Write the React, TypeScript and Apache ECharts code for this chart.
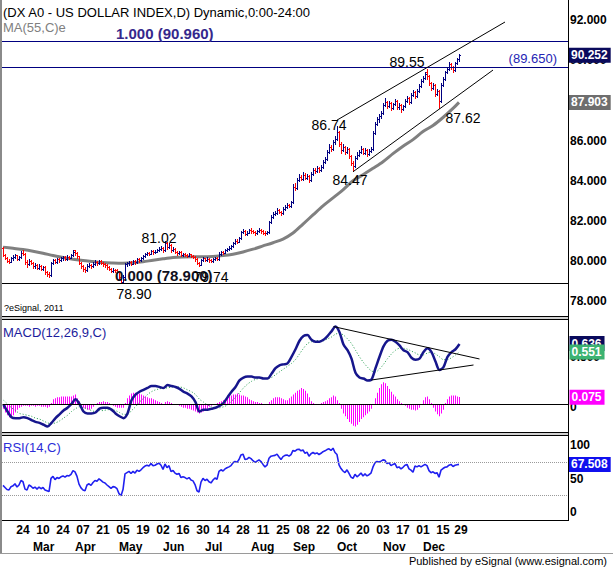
import { useEffect, useRef } from 'react';
import * as echarts from 'echarts';

const FONT = '"Liberation Sans", Arial, sans-serif';
const N_CATS = 283;
const HOLIDAYS = ['2014-12-25'];

const dayTicks = ['2014-02-24','2014-03-10','2014-03-24','2014-04-07','2014-04-21','2014-05-05','2014-05-19','2014-06-02','2014-06-16','2014-06-30','2014-07-14','2014-07-28','2014-08-11','2014-08-25','2014-09-08','2014-09-22','2014-10-06','2014-10-20','2014-11-03','2014-11-17','2014-12-01','2014-12-15','2014-12-29'];
const monthTicks = ['2014-03-03','2014-04-01','2014-05-01','2014-06-02','2014-07-01','2014-08-01','2014-09-01','2014-10-01','2014-11-03','2014-12-01'];
const monthNames = ['Mar','Apr','May','Jun','Jul','Aug','Sep','Oct','Nov','Dec'];
const priceTicks = [78, 80, 82, 84, 86, 88, 90, 92];
const macdTicks = [0, 0.5];
const rsiTicks = [0, 50, 100];
const rsiBands = [70, 30];

const fibTop = { ratio: '1.000', price: 90.96 };
const fibBottom = { ratio: '0.000', price: 78.9 };
const resistance = 89.65;

const pivotIdx = [59, 81, 98, 167, 175, 212, 218];
const pivotPrice = [78.9, 81.02, 79.74, 86.74, 84.47, 89.55, 87.62];

const priceUpperChannel = [[167, 87.02], [251, 91.9]];
const priceLowerChannel = [[175, 84.45], [245, 89.51]];
const macdUpperLine = [[165, 0.82], [238, 0.477]];
const macdLowerLine = [[184, 0.254], [235, 0.413]];

// daily bars [open, high, low, close]
const ohlc = [
[80.66,80.72,80.25,80.30],[80.30,80.38,80.12,80.18],[80.18,80.22,79.98,80.02],[80.02,80.10,79.93,79.98],[79.98,80.22,79.95,80.15],
[80.15,80.30,80.08,80.22],[80.22,80.35,80.15,80.30],[80.30,80.33,80.05,80.12],[80.12,80.28,80.06,80.20],[80.20,80.52,80.15,80.42],
[80.42,80.55,80.30,80.38],[80.38,80.40,79.88,79.95],[79.95,80.05,79.70,79.88],[79.88,80.12,79.82,80.00],[80.00,80.08,79.85,79.92],
[79.92,79.98,79.66,79.75],[79.75,79.90,79.68,79.80],[79.80,79.85,79.60,79.68],[79.68,79.85,79.62,79.75],[79.75,79.80,79.55,79.62],
[79.62,79.78,79.55,79.70],[79.70,79.74,79.38,79.45],[79.45,79.52,79.25,79.38],[79.38,79.45,79.20,79.30],[79.30,79.98,79.28,79.90],
[79.90,80.12,79.85,80.05],[80.05,80.10,79.90,79.98],[79.98,80.18,79.92,80.10],[80.10,80.16,79.98,80.05],[80.05,80.22,80.00,80.15],
[80.15,80.28,80.08,80.20],[80.20,80.25,80.05,80.12],[80.12,80.30,80.08,80.22],[80.22,80.28,80.10,80.18],[80.18,80.38,80.15,80.30],
[80.30,80.55,80.25,80.45],[80.55,80.58,80.32,80.40],[80.40,80.45,80.18,80.25],[80.25,80.28,79.85,79.90],[79.90,79.95,79.68,79.75],
[79.75,79.80,79.52,79.62],[79.62,79.70,79.45,79.55],[79.55,79.85,79.52,79.78],[79.78,79.90,79.70,79.82],[79.82,79.88,79.68,79.75],
[79.75,79.95,79.70,79.88],[79.88,80.05,79.82,79.95],[79.95,80.00,79.82,79.90],[79.90,80.08,79.85,80.00],[80.00,80.05,79.85,79.92],
[79.92,79.98,79.78,79.85],[79.85,79.92,79.72,79.80],[79.80,79.85,79.62,79.70],[79.70,79.75,79.55,79.62],[79.62,79.68,79.45,79.52],
[79.52,79.65,79.48,79.58],[79.58,79.62,79.45,79.55],[79.55,79.60,79.40,79.48],[79.48,79.52,79.12,79.20],[79.20,79.28,78.90,78.98],
[78.98,79.30,78.95,79.20],[79.20,79.92,79.15,79.85],[79.85,79.98,79.78,79.90],[79.90,80.02,79.82,79.95],[79.95,80.00,79.80,79.88],
[79.88,80.08,79.84,80.00],[80.00,80.05,79.88,79.95],[79.95,80.18,79.92,80.10],[80.10,80.15,79.98,80.05],[80.05,80.22,80.00,80.15],
[80.15,80.32,80.10,80.25],[80.25,80.42,80.20,80.35],[80.35,80.48,80.30,80.40],[80.40,80.46,80.30,80.38],[80.38,80.58,80.35,80.50],
[80.50,80.55,80.38,80.45],[80.45,80.56,80.40,80.48],[80.48,80.62,80.44,80.55],[80.55,80.70,80.50,80.60],[80.60,80.75,80.55,80.65],
[80.65,80.70,80.48,80.55],[80.55,81.02,80.52,80.90],[80.90,80.95,80.62,80.70],[80.70,80.90,80.65,80.80],[80.80,80.85,80.48,80.55],
[80.55,80.70,80.50,80.60],[80.60,80.65,80.40,80.48],[80.48,80.52,80.32,80.40],[80.40,80.52,80.35,80.45],[80.45,80.50,80.25,80.30],
[80.30,80.42,80.25,80.35],[80.35,80.40,80.25,80.32],[80.32,80.38,80.22,80.28],[80.28,80.42,80.25,80.35],[80.35,80.38,80.20,80.25],
[80.25,80.32,80.15,80.22],[80.22,80.26,80.02,80.10],[80.10,80.14,79.85,79.90],[79.90,79.95,79.74,79.82],[79.82,80.10,79.80,80.05],
[80.05,80.22,80.00,80.15],[80.15,80.18,80.02,80.08],[80.08,80.20,80.02,80.12],[80.12,80.15,79.98,80.05],[80.05,80.10,79.95,80.00],
[80.00,80.15,79.96,80.10],[80.10,80.22,80.05,80.15],[80.15,80.20,80.04,80.10],[80.10,80.45,80.08,80.38],[80.38,80.52,80.32,80.45],
[80.45,80.50,80.36,80.42],[80.42,80.62,80.40,80.55],[80.55,80.68,80.50,80.62],[80.62,80.75,80.56,80.68],[80.68,80.82,80.62,80.75],
[80.75,80.98,80.70,80.92],[80.92,81.08,80.88,81.00],[81.00,81.08,80.90,80.98],[80.98,81.22,80.95,81.15],[81.15,81.52,81.12,81.45],
[81.45,81.62,81.40,81.50],[81.50,81.55,81.28,81.35],[81.35,81.48,81.30,81.40],[81.40,81.62,81.38,81.55],[81.55,81.65,81.42,81.50],
[81.50,81.55,81.38,81.45],[81.45,81.50,81.32,81.40],[81.40,81.55,81.36,81.48],[81.48,81.65,81.45,81.55],[81.55,81.60,81.42,81.50],
[81.50,81.55,81.36,81.42],[81.42,81.48,81.30,81.38],[81.38,81.52,81.34,81.45],[81.45,82.02,81.42,81.95],[81.95,82.30,81.90,82.20],
[82.20,82.45,82.15,82.35],[82.35,82.52,82.28,82.40],[82.40,82.65,82.35,82.55],[82.55,82.62,82.38,82.45],[82.45,82.50,82.28,82.38],
[82.38,82.68,82.35,82.60],[82.60,82.80,82.55,82.72],[82.72,82.88,82.66,82.80],[82.80,82.86,82.68,82.75],[82.75,83.02,82.72,82.95],
[82.95,83.85,82.92,83.70],[83.70,83.90,83.55,83.65],[83.65,84.15,83.60,84.05],[84.05,84.32,84.00,84.20],[84.20,84.28,84.02,84.10],
[84.10,84.42,84.05,84.30],[84.30,84.38,84.08,84.15],[84.15,84.35,84.10,84.25],[84.25,84.30,83.95,84.05],[84.05,84.45,84.00,84.35],
[84.35,84.65,84.30,84.55],[84.55,84.62,84.40,84.48],[84.48,84.72,84.44,84.62],[84.62,84.68,84.46,84.55],[84.55,84.80,84.50,84.70],
[84.70,85.05,84.65,84.95],[84.95,85.20,84.88,85.10],[85.10,85.55,85.05,85.45],[85.45,85.82,85.40,85.70],[85.70,85.78,85.50,85.60],
[85.60,86.05,85.55,85.95],[85.95,86.25,85.85,86.10],[86.10,86.74,86.05,86.45],[86.45,86.50,85.75,85.85],[85.85,85.95,85.40,85.55],
[85.55,85.82,85.50,85.70],[85.70,85.75,85.35,85.45],[85.45,85.70,85.40,85.60],[85.60,85.65,85.15,85.25],[85.25,85.30,84.80,84.90],
[84.90,85.00,84.47,84.75],[84.75,85.25,84.70,85.15],[85.15,85.42,85.10,85.30],[85.30,85.55,85.25,85.45],[85.45,85.72,85.40,85.60],
[85.60,85.65,85.32,85.40],[85.40,85.62,85.35,85.55],[85.55,85.60,85.25,85.35],[85.35,85.58,85.30,85.50],[85.50,85.70,85.45,85.60],
[85.60,86.50,85.55,86.40],[86.40,86.95,86.35,86.85],[86.85,87.15,86.78,87.05],[87.05,87.30,86.95,87.20],[87.20,87.45,87.10,87.35],
[87.35,87.85,87.30,87.75],[87.75,88.10,87.70,87.90],[87.90,87.95,87.60,87.70],[87.70,87.95,87.65,87.85],[87.85,87.90,87.50,87.60],
[87.60,87.88,87.55,87.80],[87.80,88.05,87.75,87.95],[87.95,88.00,87.58,87.65],[87.65,87.85,87.55,87.75],[87.75,87.80,87.42,87.55],
[87.55,87.78,87.50,87.70],[87.70,88.05,87.65,87.95],[87.95,88.20,87.90,88.10],[88.10,88.15,87.82,87.90],[87.90,88.35,87.85,88.25],
[88.25,88.52,88.20,88.40],[88.40,88.45,88.10,88.20],[88.20,88.55,88.15,88.45],[88.45,88.80,88.40,88.70],[88.70,89.05,88.65,88.95],
[88.95,89.20,88.90,89.10],[89.10,89.42,89.05,89.30],[89.40,89.55,89.05,89.20],[89.20,89.25,88.75,88.85],[88.85,88.92,88.50,88.60],
[88.60,88.85,88.55,88.75],[88.75,88.80,88.22,88.30],[88.30,88.55,88.25,88.45],[88.45,88.50,87.62,87.95],[87.95,88.85,87.90,88.75],
[88.75,89.15,88.70,89.05],[89.05,89.48,89.00,89.40],[89.40,89.65,89.35,89.55],[89.55,89.90,89.50,89.80],[89.80,89.88,89.58,89.65],
[89.65,89.72,89.42,89.50],[89.50,89.92,89.45,89.85],[89.85,90.12,89.80,90.05],[90.05,90.30,89.98,90.252]
];

// MA(55) read at [bar index, value]
const ma55 = [[0,80.70],[5,80.64],[10,80.58],[15,80.50],[20,80.40],[25,80.28],[30,80.18],[35,80.10],[40,80.03],[45,79.98],[50,79.93],[55,79.91],[60,79.90],[65,79.92],[70,79.97],[75,80.05],[80,80.12],[85,80.18],[90,80.21],[95,80.22],[100,80.22],[105,80.24],[110,80.28],[115,80.35],[120,80.46],[125,80.60],[130,80.76],[135,80.92],[140,81.10],[145,81.40],[150,81.85],[155,82.30],[160,82.75],[165,83.15],[170,83.55],[175,84.00],[180,84.30],[185,84.62],[190,84.95],[195,85.35],[200,85.72],[205,86.05],[210,86.45],[215,86.75],[220,87.15],[225,87.60],[228,87.903]];

// MACD and signal, read every 2nd bar (bar 0, 2, 4 ... 228)
const macdLine = [
-0.01,-0.08,-0.14,-0.15,-0.15,-0.14,-0.15,-0.17,-0.19,-0.20,
-0.22,-0.24,-0.20,-0.15,-0.11,-0.07,-0.04,0.00,0.05,0.00,
-0.08,-0.10,-0.10,-0.09,-0.05,-0.04,-0.04,-0.06,-0.10,-0.13,
-0.15,-0.10,0.04,0.10,0.13,0.15,0.17,0.19,0.19,0.18,
0.17,0.20,0.19,0.18,0.16,0.13,0.11,0.08,0.02,-0.08,
-0.06,-0.06,-0.05,-0.04,-0.02,0.01,0.07,0.13,0.18,0.25,
0.28,0.29,0.29,0.28,0.28,0.27,0.27,0.32,0.38,0.41,
0.42,0.43,0.50,0.58,0.67,0.72,0.73,0.68,0.66,0.66,
0.68,0.72,0.77,0.82,0.76,0.63,0.57,0.48,0.33,0.28,
0.27,0.25,0.26,0.38,0.50,0.61,0.67,0.68,0.66,0.62,
0.57,0.55,0.49,0.47,0.48,0.55,0.59,0.55,0.45,0.36,
0.39,0.50,0.55,0.58,0.636
];
const signalLine = [
0.04,0.00,-0.04,-0.07,-0.10,-0.11,-0.12,-0.13,-0.15,-0.16,
-0.18,-0.20,-0.21,-0.20,-0.18,-0.15,-0.12,-0.08,-0.05,-0.03,
-0.04,-0.05,-0.07,-0.08,-0.07,-0.07,-0.06,-0.06,-0.07,-0.09,
-0.11,-0.11,-0.07,-0.03,0.02,0.06,0.10,0.13,0.15,0.16,
0.17,0.17,0.18,0.18,0.18,0.17,0.15,0.13,0.10,0.05,
0.02,-0.01,-0.03,-0.04,-0.04,-0.03,-0.01,0.03,0.07,0.12,
0.17,0.21,0.24,0.26,0.27,0.27,0.27,0.28,0.31,0.34,
0.37,0.40,0.43,0.47,0.53,0.59,0.64,0.66,0.67,0.67,
0.67,0.69,0.71,0.74,0.75,0.73,0.69,0.64,0.57,0.50,
0.44,0.39,0.35,0.34,0.37,0.42,0.48,0.53,0.57,0.59,
0.59,0.58,0.56,0.54,0.52,0.52,0.54,0.55,0.53,0.50,
0.47,0.47,0.49,0.52,0.551
];
const macdHist = [
-0.05,-0.09,-0.12,-0.14,-0.14,-0.12,-0.09,-0.06,-0.04,-0.03,
-0.02,-0.02,-0.02,-0.03,-0.02,-0.02,-0.03,-0.02,-0.02,-0.03,
-0.03,-0.03,-0.04,-0.03,0.01,0.05,0.06,0.07,0.07,0.08,
0.08,0.08,0.08,0.08,0.08,0.09,0.10,0.06,0.03,-0.02,
-0.04,-0.05,-0.06,-0.06,-0.05,-0.03,-0.01,0.01,0.02,0.02,
0.03,0.02,0.02,0.01,0.00,-0.02,-0.03,-0.04,-0.04,-0.04,
-0.04,0.01,0.06,0.09,0.11,0.12,0.12,0.11,0.11,0.10,
0.09,0.08,0.07,0.06,0.06,0.05,0.04,0.03,0.02,0.01,
0.00,0.02,0.03,0.02,0.01,0.00,0.00,-0.01,-0.02,-0.03,
-0.04,-0.04,-0.05,-0.05,-0.06,-0.07,-0.08,-0.09,-0.10,-0.09,
-0.08,-0.06,-0.05,-0.03,-0.02,0.00,0.00,0.01,0.02,0.03,
0.04,0.05,0.07,0.08,0.09,0.10,0.10,0.11,0.10,0.09,
0.09,0.08,0.07,0.05,0.04,0.03,0.02,0.02,0.01,0.01,
0.00,0.00,0.00,0.02,0.04,0.06,0.07,0.07,0.07,0.06,
0.05,0.04,0.04,0.06,0.08,0.10,0.12,0.14,0.15,0.17,
0.16,0.14,0.11,0.07,0.03,0.01,0.00,-0.01,0.00,0.01,
0.02,0.03,0.04,0.06,0.07,0.09,0.08,0.04,0.01,-0.05,
-0.10,-0.13,-0.16,-0.19,-0.21,-0.23,-0.24,-0.22,-0.19,-0.16,
-0.14,-0.12,-0.10,-0.08,-0.05,0.00,0.06,0.12,0.17,0.21,
0.23,0.22,0.19,0.16,0.13,0.10,0.08,0.05,0.03,0.01,
-0.01,-0.02,-0.04,-0.05,-0.06,-0.06,-0.07,-0.06,-0.04,0.00,
0.04,0.07,0.08,0.05,0.01,-0.04,-0.08,-0.11,-0.13,-0.10,
-0.06,0.01,0.05,0.08,0.09,0.09,0.09,0.08,0.075
];
const rsi14 = [
42.0,39.5,37.0,36.5,40.5,41.5,44.0,40.0,42.5,48.0,
46.5,37.5,36.5,42.5,41.0,38.5,40.0,37.5,40.0,38.0,
39.5,36.5,35.5,34.5,50.5,53.0,49.0,51.5,50.5,52.5,
53.5,52.0,54.0,53.5,55.5,60.0,58.5,53.0,43.5,39.0,
36.5,35.5,42.5,44.0,42.0,45.5,48.0,47.0,50.0,48.0,
46.0,45.0,42.5,40.5,38.5,40.5,40.0,38.0,32.0,29.5,
37.0,56.0,57.5,59.0,56.5,59.0,57.0,60.5,59.0,61.0,
63.5,65.5,66.5,65.5,68.5,66.0,66.5,68.0,69.0,66.5,
61.5,68.0,63.5,66.0,59.0,60.0,57.0,55.5,56.5,51.5,
52.5,51.5,50.0,51.5,48.5,47.5,43.0,35.5,34.0,46.0,
50.5,48.0,49.5,46.5,45.0,48.5,51.0,49.5,59.0,61.0,
59.5,62.0,63.5,64.5,66.0,69.5,71.0,70.0,73.5,79.0,
80.0,73.5,74.0,76.0,74.5,72.0,70.0,71.5,73.0,71.0,
67.5,64.5,66.5,75.0,77.5,78.0,78.5,80.0,76.5,73.5,
77.0,78.5,79.0,77.5,79.5,84.5,83.5,85.5,86.0,84.0,
85.0,81.0,82.5,77.5,80.5,82.0,80.5,81.5,79.5,81.0,
83.0,84.0,85.5,86.5,84.5,87.2,82.0,79.5,67.0,62.5,
59.5,57.5,61.0,56.5,52.0,50.5,55.5,52.5,54.5,57.0,
53.5,56.0,53.5,55.0,57.0,64.5,69.5,71.0,70.5,71.5,
73.0,72.5,68.5,69.5,66.0,67.5,68.5,63.5,64.5,62.0,
64.0,66.5,67.5,62.0,60.5,58.0,65.5,64.5,66.0,64.5,
66.0,67.5,66.0,60.0,57.5,58.5,56.5,57.5,52.0,60.5,
62.5,64.0,64.5,66.5,67.5,65.0,66.5,67.0,67.508
];

function buildCategories(): string[] {
  const out: string[] = [];
  const d = new Date(Date.UTC(2014, 1, 10));
  while (out.length < N_CATS) {
    const wd = d.getUTCDay();
    const s = d.toISOString().slice(0, 10);
    if (wd !== 0 && wd !== 6 && HOLIDAYS.indexOf(s) < 0) out.push(s);
    d.setUTCDate(d.getUTCDate() + 1);
  }
  return out;
}

const UP = '#000080';
const DOWN = '#ff0000';
const HIST = '#ff00ff';

function buildOption() {
  const cats = buildCategories();
  const lastClose = ohlc[ohlc.length - 1][3];
  const lastMa = ma55[ma55.length - 1][1];
  const lastMacd = macdLine[macdLine.length - 1];
  const lastSignal = signalLine[signalLine.length - 1];
  const lastHist = macdHist[macdHist.length - 1];
  const lastRsi = rsi14[rsi14.length - 1];

  const pivotOffsets = [[13, 11], [-6, -3], [12, 11], [-8, -1], [-3, 9], [-20, -7], [24, 10]];

  const valueBox = (val: number, bg: string) => ({
    yAxis: val,
    lineStyle: { color: 'rgba(0,0,0,0)', width: 0 },
    label: {
      show: true, position: 'end', distance: 1, formatter: val.toFixed(3),
      color: '#fff', backgroundColor: bg, padding: [2, 3, 1, 2],
      fontSize: 12, fontWeight: 'bold', fontFamily: FONT, lineHeight: 12,
    },
  });
  const seg = (pts: number[][]) => [
    { coord: [cats[pts[0][0]], pts[0][1]], lineStyle: { color: '#000', width: 1, type: 'solid' }, label: { show: false } },
    { coord: [cats[pts[1][0]], pts[1][1]] },
  ];

  const renderBar = (_params: any, api: any) => {
    const idx = api.value(0);
    const o = api.value(1), h = api.value(2), l = api.value(3), c = api.value(4);
    const pH = api.coord([idx, h]);
    const pL = api.coord([idx, l]);
    const pO = api.coord([idx, o]);
    const pC = api.coord([idx, c]);
    const x = Math.round(pH[0]);
    const col = c >= o ? UP : DOWN;
    const yH = Math.round(pH[1]);
    const yL = Math.round(pL[1]);
    const yo = Math.round(pO[1]);
    const yc = Math.round(pC[1]);
    return {
      type: 'group',
      children: [
        { type: 'rect', shape: { x, y: yH, width: 1, height: Math.max(1, yL - yH + 1) }, style: { fill: col, stroke: null } },
        { type: 'rect', shape: { x: x - 1, y: yo, width: 1, height: 1 }, style: { fill: col, stroke: null } },
        { type: 'rect', shape: { x: x + 1, y: yc, width: 1, height: 1 }, style: { fill: col, stroke: null } },
      ],
    };
  };

  const axisLblBase = { color: '#000', fontSize: 12, fontWeight: 'bold', fontFamily: FONT };

  const text = (x: number, y: number, s: string, font: string, fill: string, align = 'left') => ({
    type: 'text', x, y, silent: true,
    style: { text: s, font, fill, textAlign: align, textVerticalAlign: 'middle', align, verticalAlign: 'middle' },
  });
  const hline = (y: number, x1: number, x2: number, stroke: string, w = 1) => ({
    type: 'line', silent: true, shape: { x1, y1: y, x2, y2: y }, style: { stroke, lineWidth: w },
  });

  return {
    animation: false,
    backgroundColor: '#ffffff',
    textStyle: { fontFamily: FONT },
    grid: [
      { left: 2, top: 0, width: 566, height: 316 },
      { left: 2.5, top: 320, width: 566, height: 112 },
      { left: 2, top: 436, width: 566, height: 84 },
    ],
    xAxis: [
      { type: 'category', gridIndex: 0, data: cats, show: false, boundaryGap: true },
      { type: 'category', gridIndex: 1, data: cats, show: false, boundaryGap: true },
      {
        type: 'category', gridIndex: 2, data: cats, boundaryGap: true, position: 'bottom',
        axisLine: { show: false }, axisTick: { show: false }, splitLine: { show: false },
        axisLabel: {
          ...axisLblBase, margin: 4,
          interval: (_i: number, v: string) => dayTicks.indexOf(v) >= 0,
          formatter: (v: string) => v.slice(8, 10),
        },
      },
      {
        type: 'category', gridIndex: 2, data: cats, boundaryGap: true, position: 'bottom', offset: 17,
        axisLine: { show: false }, axisTick: { show: false }, splitLine: { show: false },
        axisLabel: {
          ...axisLblBase, margin: 4, align: 'left',
          interval: (_i: number, v: string) => monthTicks.indexOf(v) >= 0,
          formatter: (v: string) => monthNames[monthTicks.indexOf(v)] || '',
        },
      },
    ],
    yAxis: [
      {
        type: 'value', gridIndex: 0, position: 'right', min: 77.274, max: 92.995,
        splitLine: { show: false }, axisLine: { show: false }, axisTick: { show: false },
        axisLabel: { ...axisLblBase, margin: 2, customValues: priceTicks, formatter: (v: number) => v.toFixed(3) },
      },
      {
        type: 'value', gridIndex: 1, position: 'right', min: -0.297, max: 0.89,
        splitLine: { show: false }, axisLine: { show: false }, axisTick: { show: false },
        axisLabel: {
          ...axisLblBase, margin: 1.5, customValues: macdTicks,
          formatter: (v: number) => (v === 0 ? '{z|0}' : v.toFixed(3)),
          rich: { z: { ...axisLblBase, padding: [6, 0, 0, 0] } },
        },
      },
      {
        type: 'value', gridIndex: 2, position: 'right', min: 0, max: 102,
        splitLine: { show: false }, axisLine: { show: false }, axisTick: { show: false },
        axisLabel: {
          ...axisLblBase, margin: 2, customValues: rsiTicks,
          formatter: (v: number) => (v === 0 ? '{lo|0}' : v === 100 ? '{hi|100}' : '{m|' + v + '}'),
          rich: {
            lo: { ...axisLblBase, padding: [0, 0, 16, 0] },
            hi: { ...axisLblBase, padding: [15, 0, 0, 0] },
            m: { ...axisLblBase },
          },
        },
      },
    ],
    series: [
      {
        type: 'custom', name: 'DX', xAxisIndex: 0, yAxisIndex: 0, z: 3,
        data: ohlc.map((b, i) => [i, b[0], b[1], b[2], b[3]]),
        encode: { x: 0, y: [1, 2, 3, 4] },
        renderItem: renderBar,
      },
      {
        type: 'line', name: 'MA55', xAxisIndex: 0, yAxisIndex: 0, z: 2,
        data: ma55, showSymbol: false, symbol: 'none', smooth: 0.3,
        lineStyle: { color: '#808080', width: 3 },
        markLine: {
          symbol: ['none', 'none'], silent: true, animation: false,
          data: [
            {
              yAxis: fibTop.price, lineStyle: { color: '#000080', width: 1, type: 'solid' },
              label: {
                show: true, position: 'insideStartTop', distance: 0, padding: [0, 0, 0, 114],
                formatter: fibTop.ratio + ' (' + fibTop.price.toFixed(3) + ')',
                color: '#35288c', fontSize: 15, fontWeight: 'bold', fontFamily: FONT,
              },
            },
            {
              yAxis: resistance, lineStyle: { color: '#000080', width: 1, type: 'solid' },
              label: {
                show: true, position: 'insideEndTop', distance: 2, padding: [0, 9, 0, 0],
                formatter: '(' + resistance.toFixed(3) + ')',
                color: '#2424b4', fontSize: 13, fontFamily: FONT,
              },
            },
            {
              yAxis: fibBottom.price, lineStyle: { color: '#000000', width: 1, type: 'solid' },
              label: {
                show: true, position: 'insideStartTop', distance: 0, padding: [0, 0, 0, 113],
                formatter: fibBottom.ratio + ' (' + fibBottom.price.toFixed(3) + ')',
                color: '#101020', fontSize: 15, fontWeight: 'bold', fontFamily: FONT,
              },
            },
            seg(priceUpperChannel),
            seg(priceLowerChannel),
            valueBox(lastMa, '#6e6e6e'),
            valueBox(lastClose, '#0a0a5c'),
          ],
        },
        markPoint: {
          symbol: 'circle', symbolSize: 1, silent: true, animation: false,
          itemStyle: { color: 'rgba(0,0,0,0)' },
          label: {
            show: true, position: 'inside', color: '#000', fontSize: 14, fontFamily: FONT,
            formatter: (p: any) => Number(p.value).toFixed(2),
          },
          data: pivotIdx.map((ix, k) => ({
            coord: [cats[ix], pivotPrice[k]], value: pivotPrice[k],
            label: { offset: pivotOffsets[k] },
          })),
        },
      },
      {
        type: 'bar', name: 'Hist', xAxisIndex: 1, yAxisIndex: 1, z: 2,
        data: macdHist, barWidth: 1,
        itemStyle: { color: HIST },
        markLine: {
          symbol: ['none', 'none'], silent: true, animation: false,
          data: [
            { yAxis: 0, lineStyle: { color: '#000', width: 1, type: 'solid' }, label: { show: false } },
            valueBox(lastMacd, '#0a0a5c'),
            valueBox(lastHist, HIST),
          ],
        },
      },
      {
        type: 'line', name: 'Signal', xAxisIndex: 1, yAxisIndex: 1, z: 2,
        data: signalLine.map((v, k) => [k * 2, v]), showSymbol: false, symbol: 'none', smooth: 0.3,
        lineStyle: { color: '#1f9a4a', width: 1, type: [1, 2] },
        markLine: {
          symbol: ['none', 'none'], silent: true, animation: false,
          data: [valueBox(lastSignal, '#3cb371')],
        },
      },
      {
        type: 'line', name: 'MACD', xAxisIndex: 1, yAxisIndex: 1, z: 3,
        data: macdLine.map((v, k) => [k * 2, v]), showSymbol: false, symbol: 'none', smooth: 0.3,
        lineStyle: { color: '#16168c', width: 2.5 },
        markLine: {
          symbol: ['none', 'none'], silent: true, animation: false,
          data: [seg(macdUpperLine), seg(macdLowerLine)],
        },
      },
      {
        type: 'line', name: 'RSI', xAxisIndex: 2, yAxisIndex: 2, z: 3,
        data: rsi14, showSymbol: false, symbol: 'none',
        lineStyle: { color: '#2020f0', width: 1.6 },
        markLine: {
          symbol: ['none', 'none'], silent: true, animation: false,
          data: [
            ...rsiBands.map((b) => ({ yAxis: b, lineStyle: { color: '#9a9a9a', width: 1, type: 'dotted' }, label: { show: false } })),
            valueBox(lastRsi, '#1010ee'),
          ],
        },
      },
    ],
    graphic: [
      { type: 'rect', silent: true, shape: { x: 0, y: 0, width: 2, height: 553 }, style: { fill: '#8a8a8a' } },
      { type: 'line', silent: true, shape: { x1: 568.5, y1: 0, x2: 568.5, y2: 521 }, style: { stroke: '#000', lineWidth: 1 } },
      hline(316.5, 2, 568, '#000'),
      { type: 'rect', silent: true, shape: { x: 2, y: 317, width: 566, height: 2 }, style: { fill: '#d0d0d0' } },
      hline(319.5, 2, 568, '#000'),
      hline(432.5, 2, 568, '#000'),
      { type: 'rect', silent: true, shape: { x: 2, y: 433, width: 566, height: 2 }, style: { fill: '#d0d0d0' } },
      hline(435.5, 2, 568, '#000'),
      hline(520.5, 2, 569, '#000'),
      hline(553.5, 0, 613, '#9a9a9a'),
      text(3, 12, '(DX A0 - US DOLLAR INDEX,D) Dynamic,0:00-24:00', '13px ' + FONT, '#000'),
      text(3, 27, 'MA(55,C)e', '13px ' + FONT, '#808080'),
      text(4, 308, '?eSignal, 2011', '9px ' + FONT, '#000'),
      text(3, 332, 'MACD(12,26,9,C)', '13px ' + FONT, '#1c1c9c'),
      text(3, 447, 'RSI(14,C)', '13px ' + FONT, '#2c2cd8'),
      text(607, 561, 'Published by eSignal (www.esignal.com)', '11px ' + FONT, '#000', 'right'),
    ],
  };
}

export default function App() {
  const ref = useRef<HTMLDivElement>(null);
  useEffect(() => {
    document.body.style.margin = '0';
    const chart = echarts.init(ref.current as HTMLDivElement, undefined, { renderer: 'svg' });
    chart.setOption(buildOption() as any);
    return () => chart.dispose();
  }, []);
  return (
    <div
      ref={ref}
      style={{ position: 'absolute', left: 0, top: 0, width: 613, height: 568, background: '#fff' }}
    />
  );
}
